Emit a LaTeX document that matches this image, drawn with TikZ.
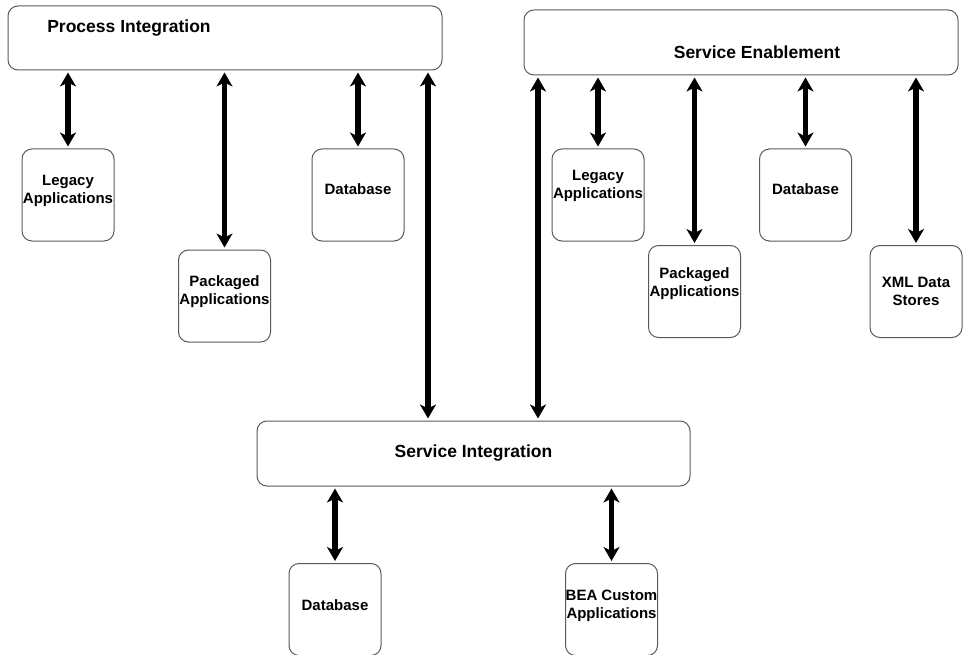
\documentclass[tikz,border=0pt]{standalone}
\usepackage{fontspec}
\setmainfont{Liberation Sans}
\usetikzlibrary{arrows.meta}
\tikzset{app/.style={rectangle,rounded corners=10pt,draw=black!65,line width=1pt,minimum width=92pt,minimum height=92pt,inner sep=0pt},
         layer/.style={app,minimum width=434pt,minimum height=64pt},
         txt/.style={align=center,font=\bfseries\fontsize{15}{18}\selectfont,inner sep=0pt},
         bigtxt/.style={font=\bfseries\fontsize{17.5}{21}\selectfont,inner sep=0pt},
         link/.style={line width=5.5pt,{Stealth[length=14pt,width=16pt,inset=4pt]}-{Stealth[length=14pt,width=16pt,inset=4pt]},shorten <=2pt,shorten >=2pt}}

\begin{document}
\begin{tikzpicture}[x=1pt,y=-1pt]
                   \useasboundingbox (0,0) rectangle (963,655);
                   \node[layer,label={[bigtxt,xshift=-96pt,yshift=10pt]center:Process Integration}] (pi) at (225,38) {};
                   \node[layer,minimum height=65pt,label={[bigtxt,xshift=16pt,yshift=-9.5pt]center:Service Enablement}] (se) at (741,42.5) {};
                   \node[layer,minimum width=433pt,minimum height=65pt,label={[bigtxt]center:Service Integration}] (si) at (473.5,453.5) {};
                   \node[app,label={[txt,yshift=4pt]center:Legacy\\Applications}] (la_1) at (68,195) {};
                   \node[app,label={[txt,yshift=4pt]center:Packaged\\Applications}] (pa_1) at (224.5,296) {};
                   \node[app,label={[txt,yshift=6pt]center:Database}] (db_1) at (358,195) {};
                   \node[app,label={[txt,yshift=9pt]center:Legacy\\Applications}] (la_2) at (598,195) {};
                   \node[app,label={[txt,yshift=8pt]center:Packaged\\Applications}] (pa_2) at (694.5,291.5) {};
                   \node[app,label={[txt,yshift=6pt]center:Database}] (db_2) at (805.5,195) {};
                   \node[app,label={[txt]center:XML Data\\Stores}] (xml) at (916,291.5) {};
                   \node[app,label={[txt,yshift=4.5pt]center:Database}] (db_3) at (335,609.5) {};
                   \node[app,label={[txt,yshift=3.5pt]center:BEA Custom\\Applications}] (bea) at (611.5,609.5) {};
                   \coordinate (s_1) at ([xshift=-45.5pt]si.north);
                   \coordinate (s_2) at ([xshift=64.5pt]si.north);
                    \path[link]
                    (pi.south -| la_1) edge (la_1.north)
                    (pi.south -| pa_1) edge (pa_1.north)
                    (pi.south -| db_1) edge (db_1.north)
                    (pi.south -| s_1) edge (s_1)
                    (se.south -| s_2) edge (s_2)
                    (se.south -| la_2) edge (la_2.north)
                    (se.south -| pa_2) edge (pa_2.north)
                    (se.south -| db_2) edge (db_2.north)
                    (se.south -| xml) edge (xml.north)
                    (si.south -| db_3) edge (db_3.north)
                    (si.south -| bea) edge (bea.north);
                \end{tikzpicture}
\end{document}
